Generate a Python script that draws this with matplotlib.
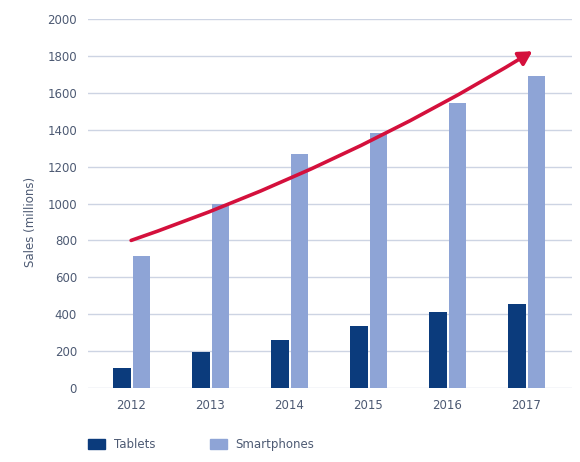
import matplotlib.pyplot as plt
from matplotlib.patches import FancyArrowPatch, Patch
import numpy as np

# data
years = ["2012", "2013", "2014", "2015", "2016", "2017"]
tablets = [110, 197, 260, 336, 412, 455]
smartphones = [715, 1000, 1270, 1380, 1545, 1690]
yticks = [0, 200, 400, 600, 800, 1000, 1200, 1400, 1600, 1800, 2000]
trend_start = (0, 800)
trend_end = (5.08, 1825)

TAB_COL = "#0b3b7c"
PHONE_COL = "#8ea4d6"
TXT_COL = "#4d5a73"

fig = plt.figure(figsize=(5.8, 4.62), dpi=100)
ax = fig.add_axes([0.152, 0.160, 0.834, 0.799])

x = np.arange(len(years))
w = 0.225
ax.bar(x - w / 2, tablets, w, color=TAB_COL, zorder=3)
ax.bar(x + 0.02 + w / 2, smartphones, w, color=PHONE_COL, zorder=3)

ax.set_xlim(-0.544, 5.58)
ax.set_ylim(0, 2000)
ax.set_yticks(yticks)
ax.set_xticks(x)
ax.set_xticklabels(years)
ax.tick_params(length=0, labelsize=8.5, labelcolor=TXT_COL, pad=8)
ax.grid(axis="y", color="#cdd4e3", linewidth=1, zorder=0)
for s in ax.spines.values():
    s.set_visible(False)
ax.set_ylabel("Sales (millions)", fontsize=8.5, color=TXT_COL)
ax.yaxis.set_label_coords(-0.105, 0.45)

# red trend arrow
arrow = FancyArrowPatch(trend_start, trend_end, connectionstyle="arc3,rad=0.055",
                        arrowstyle="-|>,head_length=8,head_width=4.5",
                        color="#d4103c", linewidth=2.6, zorder=4,
                        shrinkA=0, shrinkB=0)
ax.add_patch(arrow)

handles = [Patch(color=TAB_COL, label="Tablets"),
           Patch(color=PHONE_COL, label="Smartphones")]
fig.legend(handles=handles, loc="lower left", bbox_to_anchor=(0.133, 0.0),
           ncol=2, frameon=False, fontsize=8.5, labelcolor=TXT_COL,
           handlelength=1.45, handleheight=0.9, handletextpad=0.75,
           columnspacing=4.6)

fig.savefig("out.png", dpi=100)
